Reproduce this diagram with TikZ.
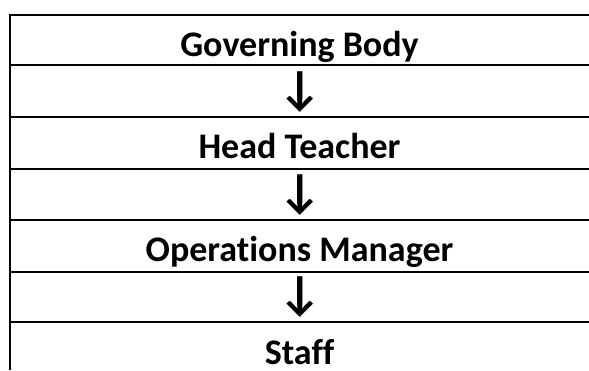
\documentclass[tikz,border=0pt]{standalone}
\usepackage{fontspec}
\setmainfont{Carlito}[Ligatures={NoCommon}]
\newfontfamily\arrowfont{Carlito}
\begin{document}
\begin{tikzpicture}[x=1pt,y=-1pt,
  rule/.style={line width=2pt,black},
  label/.style={anchor=base,inner sep=0pt,font=\fontsize{36}{40}\selectfont\bfseries},
  arrowsym/.style={anchor=base,inner sep=0pt,font=\fontsize{48}{52}\selectfont\arrowfont\bfseries}]
\useasboundingbox (0,0) rectangle (589,370);
\foreach \y in {15,65,117,169,220,272,322} {\draw[rule] (10,\y) -- (589,\y);}
\draw[rule] (10,14) -- (10,370);
\node[label] (gb) at (299.5,56) {Governing Body};
\node[arrowsym] (a1) at (300.5,104) {↓};
\node[label] (ht) at (299.5,158) {Head Teacher};
\node[arrowsym] (a2) at (300.5,207) {↓};
\node[label] (om) at (299.5,261) {Operations Manager};
\node[arrowsym] (a3) at (300.5,309) {↓};
\node[label] (st) at (299.5,364) {Staff};
\end{tikzpicture}
\end{document}
